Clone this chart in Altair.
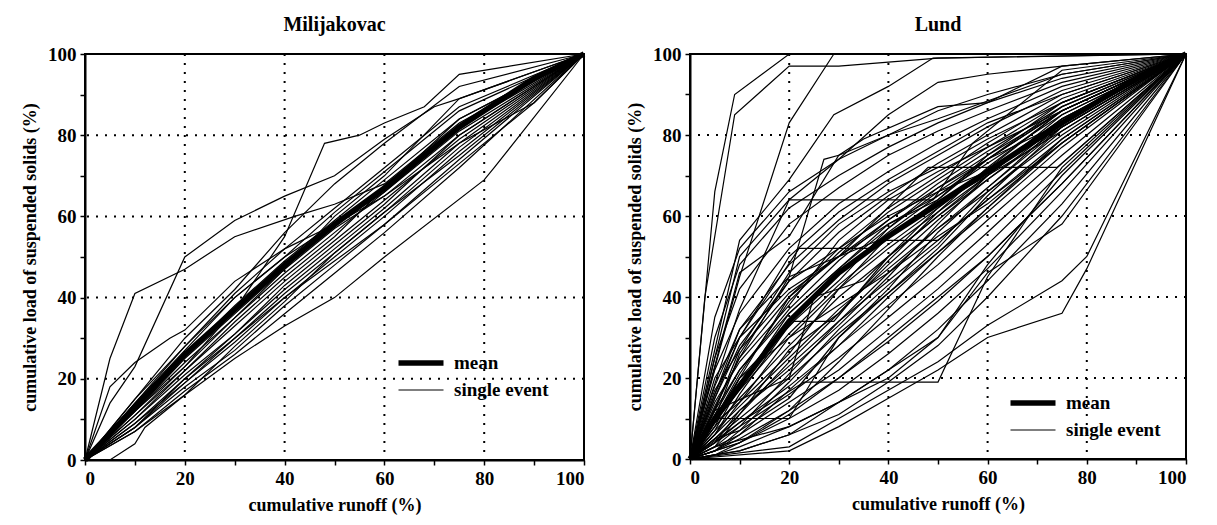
import altair as alt
import pandas as pd

# ---------------- data ----------------
# Milijakovac: events sampled at common runoff fractions
mil_x = [0, 10, 20, 30, 40, 50, 60, 75, 100]
mil_regular = [
    [0, 15, 30, 42, 56, 68, 78, 92, 100],
    [0, 14, 27, 40, 50, 61, 71, 86, 100],
    [0, 13, 26, 38, 49, 59, 69, 84, 100],
    [0, 12, 24, 35, 46, 56, 66, 81, 100],
    [0, 11, 22, 33, 44, 54, 64, 79, 100],
    [0, 10, 21, 31, 42, 52, 62, 78, 100],
    [0, 9, 19, 29, 40, 50, 60, 76, 100],
    [0, 8, 18, 27, 38, 48, 58, 74, 100],
    [0, 7, 17, 26, 36, 46, 56, 72, 100],
    [0, 10, 22, 34, 45, 55, 67, 84, 100],
    [0, 12, 25, 36, 47, 60, 70, 89, 100],
    [0, 9, 20, 31, 43, 53, 63, 80, 100],
    [0, 7, 16, 28, 39, 51, 61, 77, 100],
    [0, 11, 23, 35, 47, 57, 65, 80, 100],
    [0, 8, 19, 30, 41, 51, 61, 75, 100],
]
mil_irregular = [
    [(0, 0), (5, 25), (10, 41), (20, 47), (30, 55), (42, 60), (50, 63), (60, 68), (75, 83), (100, 100)],
    [(0, 0), (5, 14), (10, 23), (20, 50), (30, 59), (40, 65), (50, 70), (60, 79), (70, 87), (75, 89), (100, 100)],
    [(0, 0), (5, 18), (10, 24), (17, 30), (20, 32), (30, 44), (40, 52), (50, 58), (60, 66), (75, 82), (100, 100)],
    [(0, 0), (10, 12), (20, 23), (30, 37), (40, 55), (48, 78), (55, 80), (60, 83), (68, 87), (75, 95), (100, 100)],
    [(0, 0), (5, 0), (10, 4), (12, 8), (20, 16), (30, 25), (40, 33), (50, 40), (60, 50), (80, 69), (82, 72), (100, 100)],
    [(0, 0), (10, 14), (20, 28), (30, 41), (40, 52), (50, 62), (56, 68), (60, 72), (75, 87), (100, 100)],
    [(0, 0), (10, 15), (20, 28), (30, 40), (40, 50), (50, 58), (60, 65), (75, 78), (90, 88), (100, 100)],
    [(0, 0), (10, 8), (20, 20), (30, 30), (40, 40), (50, 49), (60, 58), (75, 73), (90, 88), (100, 100)],
]
mil_mean_x = [0, 10, 20, 30, 40, 50, 60, 75, 90, 100]
mil_mean_y = [0, 13, 26, 37, 48, 58, 67, 82, 94, 100]

# Lund
lund_x = [0, 5, 10, 20, 30, 40, 50, 60, 75, 100]
lund_regular = [
    [0, 30, 48, 62, 70, 77, 83, 88, 94, 100],
    [0, 25, 42, 58, 67, 75, 81, 86, 93, 100],
    [0, 22, 36, 52, 63, 71, 78, 84, 92, 100],
    [0, 18, 32, 48, 59, 68, 75, 82, 91, 100],
    [0, 15, 28, 44, 56, 65, 73, 80, 90, 100],
    [0, 13, 25, 40, 52, 62, 70, 78, 89, 100],
    [0, 11, 22, 37, 49, 59, 68, 76, 87, 100],
    [0, 10, 19, 34, 46, 56, 65, 73, 85, 100],
    [0, 9, 17, 31, 43, 53, 62, 71, 84, 100],
    [0, 8, 15, 28, 40, 50, 60, 69, 82, 100],
    [0, 7, 13, 25, 37, 47, 57, 66, 80, 100],
    [0, 6, 12, 23, 34, 44, 54, 64, 79, 100],
    [0, 5, 10, 20, 31, 41, 51, 61, 77, 100],
    [0, 4, 9, 18, 28, 38, 48, 59, 75, 100],
    [0, 4, 8, 16, 25, 35, 45, 56, 73, 100],
    [0, 3, 6, 14, 22, 32, 42, 53, 71, 100],
    [0, 2, 5, 12, 20, 29, 39, 50, 68, 100],
    [0, 2, 4, 10, 17, 26, 36, 47, 66, 100],
    [0, 1, 3, 8, 14, 22, 32, 44, 63, 100],
    [0, 1, 2, 6, 11, 19, 28, 40, 60, 100],
    [0, 35, 52, 66, 74, 80, 86, 90, 95, 100],
    [0, 12, 27, 46, 58, 66, 72, 79, 88, 100],
    [0, 14, 24, 38, 54, 64, 71, 77, 86, 100],
    [0, 6, 16, 33, 44, 57, 67, 74, 83, 100],
    [0, 9, 14, 26, 42, 55, 63, 70, 81, 100],
    [0, 3, 11, 27, 36, 49, 61, 72, 86, 100],
    [0, 5, 7, 15, 30, 42, 56, 67, 83, 100],
    [0, 8, 20, 30, 38, 46, 55, 63, 78, 100],
    [0, 20, 30, 42, 50, 58, 65, 74, 87, 100],
    [0, 10, 26, 44, 52, 60, 66, 71, 82, 100],
    [0, 16, 30, 50, 61, 69, 76, 83, 90, 100],
    [0, 7, 18, 36, 47, 58, 64, 75, 88, 100],
    [0, 4, 12, 22, 33, 45, 58, 70, 84, 100],
    [0, 2, 7, 19, 32, 43, 53, 66, 81, 100],
    [0, 6, 14, 30, 42, 52, 61, 70, 84, 100],
    [0, 12, 22, 36, 47, 57, 66, 74, 86, 100],
    [0, 3, 8, 21, 34, 46, 57, 67, 82, 100],
    [0, 5, 11, 24, 36, 48, 59, 69, 83, 100],
    [0, 1, 4, 12, 24, 37, 50, 62, 79, 100],
    [0, 10, 21, 39, 51, 61, 69, 77, 88, 100],
    [0, 2, 6, 17, 28, 40, 51, 62, 78, 100],
    [0, 17, 27, 41, 50, 59, 67, 75, 86, 100],
]
lund_irregular = [
    [(0, 0), (5, 66), (9, 90), (20, 100), (100, 100)],
    [(0, 0), (3, 40), (7, 70), (9, 85), (20, 97), (30, 97), (50, 99), (100, 100)],
    [(0, 0), (10, 45), (20, 83), (29, 100), (100, 100)],
    [(0, 0), (10, 54), (20, 69), (29, 85), (40, 92), (49, 99), (100, 100)],
    [(0, 0), (10, 50), (20, 64), (30, 74), (40, 85), (50, 93), (60, 95), (75, 97), (100, 100)],
    [(0, 0), (10, 46), (20, 55), (30, 75), (35, 79), (50, 87), (60, 88), (75, 97), (100, 100)],
    [(0, 0), (10, 37), (20, 64), (49, 64), (57, 78), (75, 96), (100, 100)],
    [(0, 0), (10, 30), (22, 52), (37, 52), (50, 64), (60, 74), (75, 86), (100, 100)],
    [(0, 0), (10, 25), (20, 45), (38, 54), (50, 54), (60, 64), (75, 78), (100, 100)],
    [(0, 0), (10, 20), (20, 40), (30, 50), (48, 72), (74, 72), (100, 100)],
    [(0, 0), (10, 9), (23, 19), (50, 19), (60, 45), (75, 72), (100, 100)],
    [(0, 0), (5, 10), (20, 10), (30, 30), (50, 52), (60, 65), (75, 82), (100, 100)],
    [(0, 0), (10, 20), (21, 34), (29, 34), (40, 50), (50, 60), (75, 85), (100, 100)],
    [(0, 0), (20, 2), (30, 8), (40, 15), (50, 22), (60, 30), (75, 36), (80, 47), (100, 100)],
    [(0, 0), (20, 3), (30, 10), (50, 24), (60, 33), (75, 44), (80, 50), (100, 100)],
    [(0, 0), (10, 2), (20, 6), (30, 14), (40, 22), (50, 30), (60, 46), (75, 58), (100, 100)],
    [(0, 0), (10, 4), (20, 11), (30, 20), (40, 30), (50, 40), (60, 50), (75, 68), (100, 100)],
    [(0, 0), (5, 3), (20, 8), (40, 20), (50, 30), (60, 48), (75, 70), (100, 100)],
    [(0, 0), (10, 32), (20, 45), (27, 74), (30, 75), (40, 80), (50, 84), (75, 95), (100, 100)],
    [(0, 0), (5, 12), (20, 20), (25, 40), (35, 44), (50, 62), (75, 86), (100, 100)],
]
lund_mean_x = [0, 5, 10, 20, 30, 40, 50, 60, 75, 90, 100]
lund_mean_y = [0, 10, 18, 34, 46, 55, 63, 71, 83, 94, 100]

tick_vals = [0, 10, 20, 30, 40, 50, 60, 70, 80, 90, 100]
grid_vals = [20, 40, 60, 80]
legend_labels = ["mean", "single event"]
SERIF = "Liberation Serif"


def build_df(xs, regular, irregular, mean_x, mean_y):
    rows = []
    lid = 0
    for ys in regular:
        for k, (x, y) in enumerate(zip(xs, ys)):
            rows.append({"id": lid, "k": k, "x": x, "y": y, "type": "single event"})
        lid += 1
    for pts in irregular:
        for k, (x, y) in enumerate(pts):
            rows.append({"id": lid, "k": k, "x": x, "y": y, "type": "single event"})
        lid += 1
    for k, (x, y) in enumerate(zip(mean_x, mean_y)):
        rows.append({"id": lid, "k": k, "x": x, "y": y, "type": "mean"})
    return pd.DataFrame(rows)


label_expr = "datum.value % 20 == 0 ? datum.label : ''"


def panel(df, title, w, h, lx, ly):
    xenc = alt.X("x:Q", scale=alt.Scale(domain=[0, 100], nice=False),
                 axis=alt.Axis(values=tick_vals, labelExpr=label_expr,
                               title="cumulative runoff (%)"))
    yenc = alt.Y("y:Q", scale=alt.Scale(domain=[0, 100], nice=False),
                 axis=alt.Axis(values=tick_vals, labelExpr=label_expr,
                               title="cumulative load of suspended solids (%)"))
    sw = alt.StrokeWidth(
        "type:N",
        scale=alt.Scale(domain=legend_labels, range=[5.5, 1.2]),
        legend=alt.Legend(orient="none", legendX=lx, legendY=ly, title=None,
                          symbolType="M-2.25,0H2.25", symbolSize=400,
                          symbolStrokeColor="black", symbolFillColor="black",
                          labelFont=SERIF, labelFontWeight="bold",
                          labelFontSize=19, labelColor="black",
                          rowPadding=5, labelOffset=20),
    )
    gdf_x = pd.DataFrame({"x": grid_vals})
    gdf_y = pd.DataFrame({"y": grid_vals})
    gridx = alt.Chart(gdf_x).mark_rule(color="black", strokeDash=[2, 7], strokeWidth=2).encode(x=xenc)
    gridy = alt.Chart(gdf_y).mark_rule(color="black", strokeDash=[2, 7], strokeWidth=2).encode(y=yenc)
    singles = alt.Chart(df[df["type"] == "single event"]).mark_line(color="black", strokeJoin="miter").encode(
        x=xenc, y=yenc, detail="id:N", order="k:Q", strokeWidth=sw)
    mean = alt.Chart(df[df["type"] == "mean"]).mark_line(color="black").encode(
        x=xenc, y=yenc, detail="id:N", order="k:Q", strokeWidth=sw)
    return alt.layer(gridx, gridy, singles, mean).properties(
        width=w, height=h,
        title=alt.TitleParams(title, font=SERIF, fontWeight="bold", fontSize=20, color="black", offset=8),
    )


mil_df = build_df(mil_x, mil_regular, mil_irregular, mil_mean_x, mil_mean_y)
lund_df = build_df(lund_x, lund_regular, lund_irregular, lund_mean_x, lund_mean_y)

left = panel(mil_df, "Milijakovac", 499, 406, 323, 296)
right = panel(lund_df, "Lund", 496, 405, 330, 336)

chart = alt.hconcat(left, right, spacing=29).resolve_scale(strokeWidth="independent").resolve_legend(
    strokeWidth="independent"
).properties(
    padding={"left": 12, "top": 6, "right": 5, "bottom": 5}, background="white"
).configure_view(
    stroke="black", strokeWidth=2
).configure_axis(
    domainColor="black", domainWidth=2, tickColor="black", tickSize=5, tickWidth=1.5,
    labelFont=SERIF, labelFontWeight="bold", labelFontSize=19, labelColor="black",
    titleFont=SERIF, titleFontWeight="bold", titleFontSize=18, titleColor="black",
    grid=False, labelPadding=4, titlePadding=8,
)

chart.save("out.html", embed_options={"renderer": "svg", "actions": False})
